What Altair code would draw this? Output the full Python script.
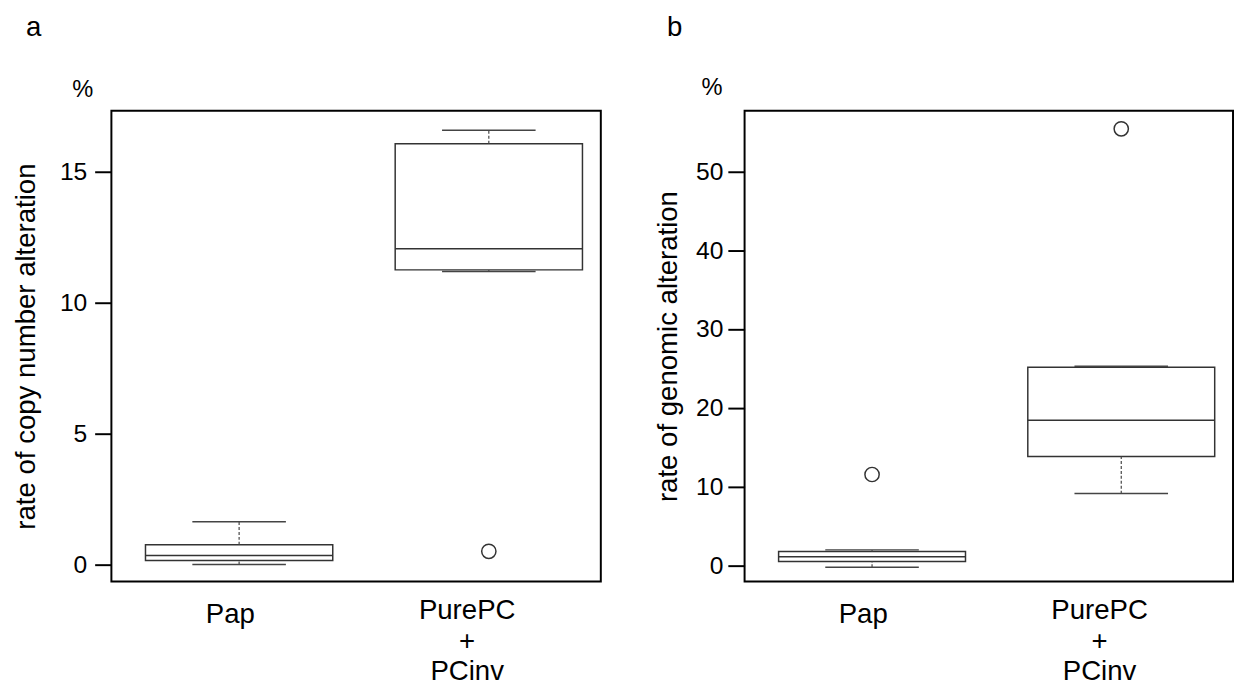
import altair as alt
import pandas as pd

FONT = "Liberation Sans"

groups = ["Pap", "PurePC\n+\nPCinv"]

# panel a: rate of copy number alteration (%)
a_lo = [0.01, 11.20]
a_q1 = [0.16, 11.26]
a_med = [0.35, 12.07]
a_q3 = [0.76, 16.08]
a_hi = [1.64, 16.59]
a_out_group = ["PurePC\n+\nPCinv"]
a_out_val = [0.51]

# panel b: rate of genomic alteration (%)
b_lo = [-0.21, 9.14]
b_q1 = [0.54, 13.84]
b_med = [1.12, 18.45]
b_q3 = [1.78, 25.15]
b_hi = [2.00, 25.30]
b_out_group = ["Pap", "PurePC\n+\nPCinv"]
b_out_val = [11.56, 55.40]

W_A, W_B, H = 497, 496, 478


def panel(lo, q1, med, q3, hi, out_g, out_v, ydom, yticks, ytitle, width,
          title_x, lab_pad, letter, letter_xy, pct_xy):
    df = pd.DataFrame({"group": groups, "lo": lo, "q1": q1, "med": med,
                       "q3": q3, "hi": hi})
    dout = pd.DataFrame({"group": out_g, "val": out_v})

    x = alt.X(
        "group:N",
        scale=alt.Scale(domain=groups, paddingInner=0.25, paddingOuter=0.105,
                        align=0.65),
        axis=alt.Axis(
            title=None, domain=False, ticks=False, tickSize=0, grid=False,
            labelAngle=0, labelFontSize=28, labelFont=FONT, labelColor="black",
            labelLineHeight=31, labelBaseline="top",
            labelExpr="split(datum.label, '\\n')",
            labelOffset={"condition": {"test": "datum.value == 'Pap'", "value": -9},
                         "value": -22},
            labelPadding={"condition": {"test": "datum.value == 'Pap'", "value": 20},
                          "value": 16},
        ),
    )
    yscale = alt.Scale(domain=ydom, nice=False, zero=False)
    yaxis = alt.Axis(
        values=yticks, title=ytitle, titleX=title_x, titleY=H / 2,
        titleAngle=-90, titleAlign="center", titleBaseline="middle",
        titleFontSize=28, titleFontWeight="normal", titleFont=FONT,
        titleColor="black", labelFontSize=25, labelFont=FONT,
        labelColor="black", tickSize=17, tickWidth=2, tickColor="black",
        labelPadding=lab_pad, domain=False, grid=False,
    )

    base = alt.Chart(df)
    box = base.mark_bar(fill="white", stroke="#333333", strokeWidth=1.5).encode(
        x=x, y=alt.Y("q1:Q", scale=yscale, axis=yaxis), y2="q3:Q")
    median = base.mark_bar(fill="white", stroke="#333333", strokeWidth=1.5).encode(
        x=x, y=alt.Y("med:Q", scale=yscale, axis=yaxis), y2="med:Q")
    wh_up = base.mark_rule(strokeDash=[3, 2], strokeWidth=1.2, color="#444444").encode(
        x=x, y=alt.Y("q3:Q", scale=yscale, axis=yaxis), y2="hi:Q")
    wh_dn = base.mark_rule(strokeDash=[3, 2], strokeWidth=1.2, color="#444444").encode(
        x=x, y=alt.Y("lo:Q", scale=yscale, axis=yaxis), y2="q1:Q")
    cap_up = base.mark_tick(size=95, thickness=1.5, color="#444444", opacity=1).encode(
        x=x, y=alt.Y("hi:Q", scale=yscale, axis=yaxis))
    cap_dn = base.mark_tick(size=95, thickness=1.5, color="#444444", opacity=1).encode(
        x=x, y=alt.Y("lo:Q", scale=yscale, axis=yaxis))
    outl = alt.Chart(dout).mark_point(shape="circle", filled=False, size=210,
                                      stroke="#333333", strokeWidth=1.5,
                                      opacity=1).encode(
        x=x, y=alt.Y("val:Q", scale=yscale, axis=yaxis))

    lab = alt.Chart(pd.DataFrame({"t": [letter]})).mark_text(
        fontSize=28, font=FONT, color="black", align="center",
        baseline="middle").encode(
        x=alt.value(letter_xy[0]), y=alt.value(letter_xy[1]), text="t:N")
    pct = alt.Chart(pd.DataFrame({"t": ["%"]})).mark_text(
        fontSize=24, font=FONT, color="black", align="center",
        baseline="middle").encode(
        x=alt.value(pct_xy[0]), y=alt.value(pct_xy[1]), text="t:N")

    return alt.layer(box, median, wh_up, wh_dn, cap_up, cap_dn, outl, lab, pct
                     ).properties(width=width, height=H)


pa = panel(a_lo, a_q1, a_med, a_q3, a_hi, a_out_group, a_out_val,
           [-0.64, 17.34], [0, 5, 10, 15], "rate of copy number alteration",
           W_A, -86, 8, "a", (-79, -84), (-29, -21))
pb = panel(b_lo, b_q1, b_med, b_q3, b_hi, b_out_group, b_out_val,
           [-2.0, 57.7], [0, 10, 20, 30, 40, 50], "rate of genomic alteration",
           W_B, -77, 5, "b", (-71, -84), (-33, -23))

chart = alt.hconcat(pa, pb, spacing=52).properties(
    padding={"left": 3, "right": 0, "top": 0, "bottom": 0}
).configure(font=FONT).configure_view(stroke="black", strokeWidth=2)

chart.save("out.html", embed_options={"renderer": "svg", "actions": False})
